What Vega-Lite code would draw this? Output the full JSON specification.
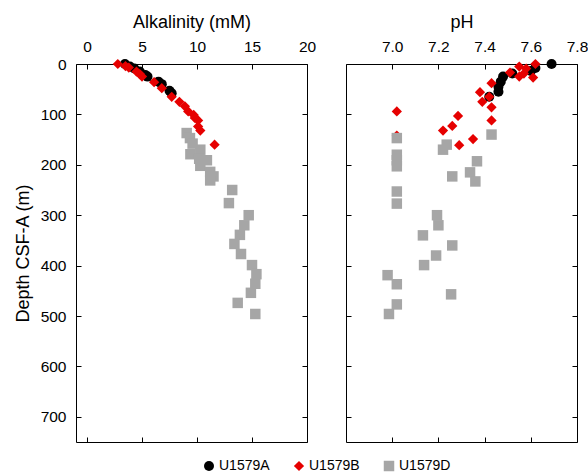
{
  "$schema": "https://vega.github.io/schema/vega-lite/v6.json",
  "padding": {"left": 14, "top": 13, "right": 5, "bottom": 5},
  "background": "white",
  "datasets": {
    "alk": [
      {"site": "U1579A", "depth": 0, "value": 3.45},
      {"site": "U1579A", "depth": 5, "value": 3.9},
      {"site": "U1579A", "depth": 9, "value": 4.3},
      {"site": "U1579A", "depth": 15, "value": 4.8},
      {"site": "U1579A", "depth": 22, "value": 5.3},
      {"site": "U1579A", "depth": 25, "value": 5.5},
      {"site": "U1579A", "depth": 35, "value": 6.5},
      {"site": "U1579A", "depth": 40, "value": 6.8},
      {"site": "U1579A", "depth": 53, "value": 7.5},
      {"site": "U1579A", "depth": 58, "value": 7.7},
      {"site": "U1579B", "depth": 0, "value": 2.8},
      {"site": "U1579B", "depth": 4, "value": 3.5},
      {"site": "U1579B", "depth": 7, "value": 3.8},
      {"site": "U1579B", "depth": 15, "value": 4.5},
      {"site": "U1579B", "depth": 20, "value": 4.8},
      {"site": "U1579B", "depth": 25, "value": 5.0},
      {"site": "U1579B", "depth": 36, "value": 6.1},
      {"site": "U1579B", "depth": 48, "value": 6.8},
      {"site": "U1579B", "depth": 65, "value": 7.7},
      {"site": "U1579B", "depth": 75, "value": 8.4},
      {"site": "U1579B", "depth": 84, "value": 8.9},
      {"site": "U1579B", "depth": 94, "value": 9.2},
      {"site": "U1579B", "depth": 101, "value": 9.7},
      {"site": "U1579B", "depth": 107, "value": 9.8},
      {"site": "U1579B", "depth": 112, "value": 10.1},
      {"site": "U1579B", "depth": 124, "value": 10.1},
      {"site": "U1579B", "depth": 132, "value": 10.3},
      {"site": "U1579B", "depth": 160, "value": 11.6},
      {"site": "U1579D", "depth": 137, "value": 9.06},
      {"site": "U1579D", "depth": 147, "value": 9.36},
      {"site": "U1579D", "depth": 158, "value": 9.6},
      {"site": "U1579D", "depth": 170, "value": 10.3},
      {"site": "U1579D", "depth": 179, "value": 9.4},
      {"site": "U1579D", "depth": 188, "value": 10.2},
      {"site": "U1579D", "depth": 191, "value": 10.9},
      {"site": "U1579D", "depth": 202, "value": 10.3},
      {"site": "U1579D", "depth": 214, "value": 11.2},
      {"site": "U1579D", "depth": 223, "value": 11.5},
      {"site": "U1579D", "depth": 231, "value": 11.2},
      {"site": "U1579D", "depth": 250, "value": 13.2},
      {"site": "U1579D", "depth": 276, "value": 12.9},
      {"site": "U1579D", "depth": 300, "value": 14.7},
      {"site": "U1579D", "depth": 320, "value": 14.3},
      {"site": "U1579D", "depth": 339, "value": 13.9},
      {"site": "U1579D", "depth": 357, "value": 13.4},
      {"site": "U1579D", "depth": 377, "value": 14.0},
      {"site": "U1579D", "depth": 399, "value": 15.0},
      {"site": "U1579D", "depth": 417, "value": 15.4},
      {"site": "U1579D", "depth": 436, "value": 15.3},
      {"site": "U1579D", "depth": 454, "value": 14.9},
      {"site": "U1579D", "depth": 474, "value": 13.7},
      {"site": "U1579D", "depth": 496, "value": 15.3}
    ],
    "ph": [
      {"site": "U1579A", "depth": 0, "value": 7.69},
      {"site": "U1579A", "depth": 8, "value": 7.62},
      {"site": "U1579A", "depth": 14, "value": 7.6},
      {"site": "U1579A", "depth": 19, "value": 7.52},
      {"site": "U1579A", "depth": 25, "value": 7.48},
      {"site": "U1579A", "depth": 35, "value": 7.47},
      {"site": "U1579A", "depth": 45, "value": 7.46},
      {"site": "U1579A", "depth": 55, "value": 7.46},
      {"site": "U1579A", "depth": 65, "value": 7.42},
      {"site": "U1579B", "depth": 0, "value": 7.62},
      {"site": "U1579B", "depth": 5, "value": 7.55},
      {"site": "U1579B", "depth": 9, "value": 7.58},
      {"site": "U1579B", "depth": 17, "value": 7.51},
      {"site": "U1579B", "depth": 19, "value": 7.57},
      {"site": "U1579B", "depth": 25, "value": 7.55},
      {"site": "U1579B", "depth": 27, "value": 7.61},
      {"site": "U1579B", "depth": 38, "value": 7.43},
      {"site": "U1579B", "depth": 56, "value": 7.38},
      {"site": "U1579B", "depth": 65, "value": 7.42},
      {"site": "U1579B", "depth": 75, "value": 7.39},
      {"site": "U1579B", "depth": 86, "value": 7.43},
      {"site": "U1579B", "depth": 94, "value": 7.02},
      {"site": "U1579B", "depth": 103, "value": 7.285},
      {"site": "U1579B", "depth": 112, "value": 7.43},
      {"site": "U1579B", "depth": 123, "value": 7.26},
      {"site": "U1579B", "depth": 132, "value": 7.22},
      {"site": "U1579B", "depth": 142, "value": 7.02},
      {"site": "U1579B", "depth": 149, "value": 7.35},
      {"site": "U1579B", "depth": 161, "value": 7.29},
      {"site": "U1579D", "depth": 140, "value": 7.43},
      {"site": "U1579D", "depth": 147, "value": 7.02},
      {"site": "U1579D", "depth": 160, "value": 7.236},
      {"site": "U1579D", "depth": 170, "value": 7.22},
      {"site": "U1579D", "depth": 180, "value": 7.02},
      {"site": "U1579D", "depth": 191, "value": 7.02},
      {"site": "U1579D", "depth": 193, "value": 7.367},
      {"site": "U1579D", "depth": 203, "value": 7.02},
      {"site": "U1579D", "depth": 215, "value": 7.337},
      {"site": "U1579D", "depth": 223, "value": 7.26},
      {"site": "U1579D", "depth": 233, "value": 7.36},
      {"site": "U1579D", "depth": 253, "value": 7.02},
      {"site": "U1579D", "depth": 277, "value": 7.02},
      {"site": "U1579D", "depth": 300, "value": 7.194},
      {"site": "U1579D", "depth": 320, "value": 7.2},
      {"site": "U1579D", "depth": 340, "value": 7.133},
      {"site": "U1579D", "depth": 360, "value": 7.26},
      {"site": "U1579D", "depth": 380, "value": 7.19},
      {"site": "U1579D", "depth": 399, "value": 7.138},
      {"site": "U1579D", "depth": 419, "value": 6.98},
      {"site": "U1579D", "depth": 437, "value": 7.02},
      {"site": "U1579D", "depth": 457, "value": 7.255},
      {"site": "U1579D", "depth": 477, "value": 7.02},
      {"site": "U1579D", "depth": 496, "value": 6.986}
    ]
  },
  "spacing": 29,
  "hconcat": [
    {
      "width": 231,
      "height": 378,
      "data": {"name": "alk"},
      "layer": [
        {
          "mark": {"type": "point", "filled": true, "opacity": 1, "strokeWidth": 0},
          "encoding": {
            "x": {"field": "value", "type": "quantitative", "scale": {"domain": [-1, 20], "nice": false, "zero": false},
                  "axis": {"orient": "top", "title": "Alkalinity (mM)", "values": [0, 5, 10, 15, 20], "titlePadding": 8}},
            "y": {"field": "depth", "type": "quantitative", "scale": {"domain": [0, 750], "reverse": true, "nice": false, "zero": false},
                  "axis": {"orient": "left", "title": "Depth CSF-A (m)", "values": [0, 100, 200, 300, 400, 500, 600, 700], "titlePadding": 8}},
            "color": {"field": "site", "type": "nominal", "scale": {"domain": ["U1579A", "U1579B", "U1579D"], "range": ["#000000", "#e60000", "#a6a6a6"]}, "legend": {"title": null, "orient": "none", "legendX": 126, "legendY": 395, "direction": "horizontal", "columns": 3}},
            "shape": {"field": "site", "type": "nominal", "scale": {"domain": ["U1579A", "U1579B", "U1579D"], "range": ["circle", "diamond", "square"]}, "legend": {"title": null, "orient": "none", "legendX": 126, "legendY": 395, "direction": "horizontal", "columns": 3}},
            "size": {"field": "site", "type": "nominal", "scale": {"domain": ["U1579A", "U1579B", "U1579D"], "range": [100, 110, 68]}, "legend": null}
          }
        },
        {
          "mark": {"type": "point", "opacity": 0},
          "encoding": {
            "x": {"field": "value", "type": "quantitative", "axis": {"orient": "bottom", "labels": false, "title": null, "values": [0, 5, 10, 15, 20]}},
            "y": {"field": "depth", "type": "quantitative", "axis": {"orient": "right", "labels": false, "title": null, "values": [0, 100, 200, 300, 400, 500, 600, 700]}}
          }
        }
      ],
      "resolve": {"axis": {"x": "independent", "y": "independent"}}
    },
    {
      "width": 231,
      "height": 378,
      "data": {"name": "ph"},
      "layer": [
        {
          "mark": {"type": "point", "filled": true, "opacity": 1, "strokeWidth": 0},
          "encoding": {
            "x": {"field": "value", "type": "quantitative", "scale": {"domain": [6.8, 7.8], "nice": false, "zero": false},
                  "axis": {"orient": "top", "title": "pH", "values": [7.0, 7.2, 7.4, 7.6, 7.8], "format": ".1f", "titlePadding": 8}},
            "y": {"field": "depth", "type": "quantitative", "scale": {"domain": [0, 750], "reverse": true, "nice": false, "zero": false},
                  "axis": {"orient": "left", "title": null, "labels": false, "values": [0, 100, 200, 300, 400, 500, 600, 700]}},
            "color": {"field": "site", "type": "nominal", "scale": {"domain": ["U1579A", "U1579B", "U1579D"], "range": ["#000000", "#e60000", "#a6a6a6"]}},
            "shape": {"field": "site", "type": "nominal", "scale": {"domain": ["U1579A", "U1579B", "U1579D"], "range": ["circle", "diamond", "square"]}},
            "size": {"field": "site", "type": "nominal", "scale": {"domain": ["U1579A", "U1579B", "U1579D"], "range": [100, 110, 68]}, "legend": null}
          }
        },
        {
          "mark": {"type": "point", "opacity": 0},
          "encoding": {
            "x": {"field": "value", "type": "quantitative", "axis": {"orient": "bottom", "labels": false, "title": null, "values": [7.0, 7.2, 7.4, 7.6, 7.8]}},
            "y": {"field": "depth", "type": "quantitative", "axis": {"orient": "right", "labels": false, "title": null, "values": [0, 100, 200, 300, 400, 500, 600, 700]}}
          }
        }
      ],
      "resolve": {"axis": {"x": "independent", "y": "independent"}}
    }
  ],
  "resolve": {"scale": {"color": "shared", "shape": "shared", "size": "shared"}},
  "config": {
    "font": "Liberation Sans",
    "view": {"stroke": null},
    "axis": {
      "grid": false,
      "tickSize": -5,
      "tickColor": "#000000",
      "domainColor": "#000000",
      "labelColor": "#000000",
      "titleColor": "#000000",
      "labelFont": "Liberation Sans",
      "titleFont": "Liberation Sans",
      "labelFontSize": 15.5,
      "titleFontSize": 18,
      "titleFontWeight": "normal",
      "labelPadding": 15,
      "labelFlush": false,
      "labelOverlap": false
    },
    "legend": {
      "labelFont": "Liberation Sans",
      "labelFontSize": 14,
      "labelColor": "#000000",
      "symbolSize": 70,
      "symbolStrokeWidth": 0,
      "columnPadding": 22,
      "labelOffset": 3
    }
  }
}
